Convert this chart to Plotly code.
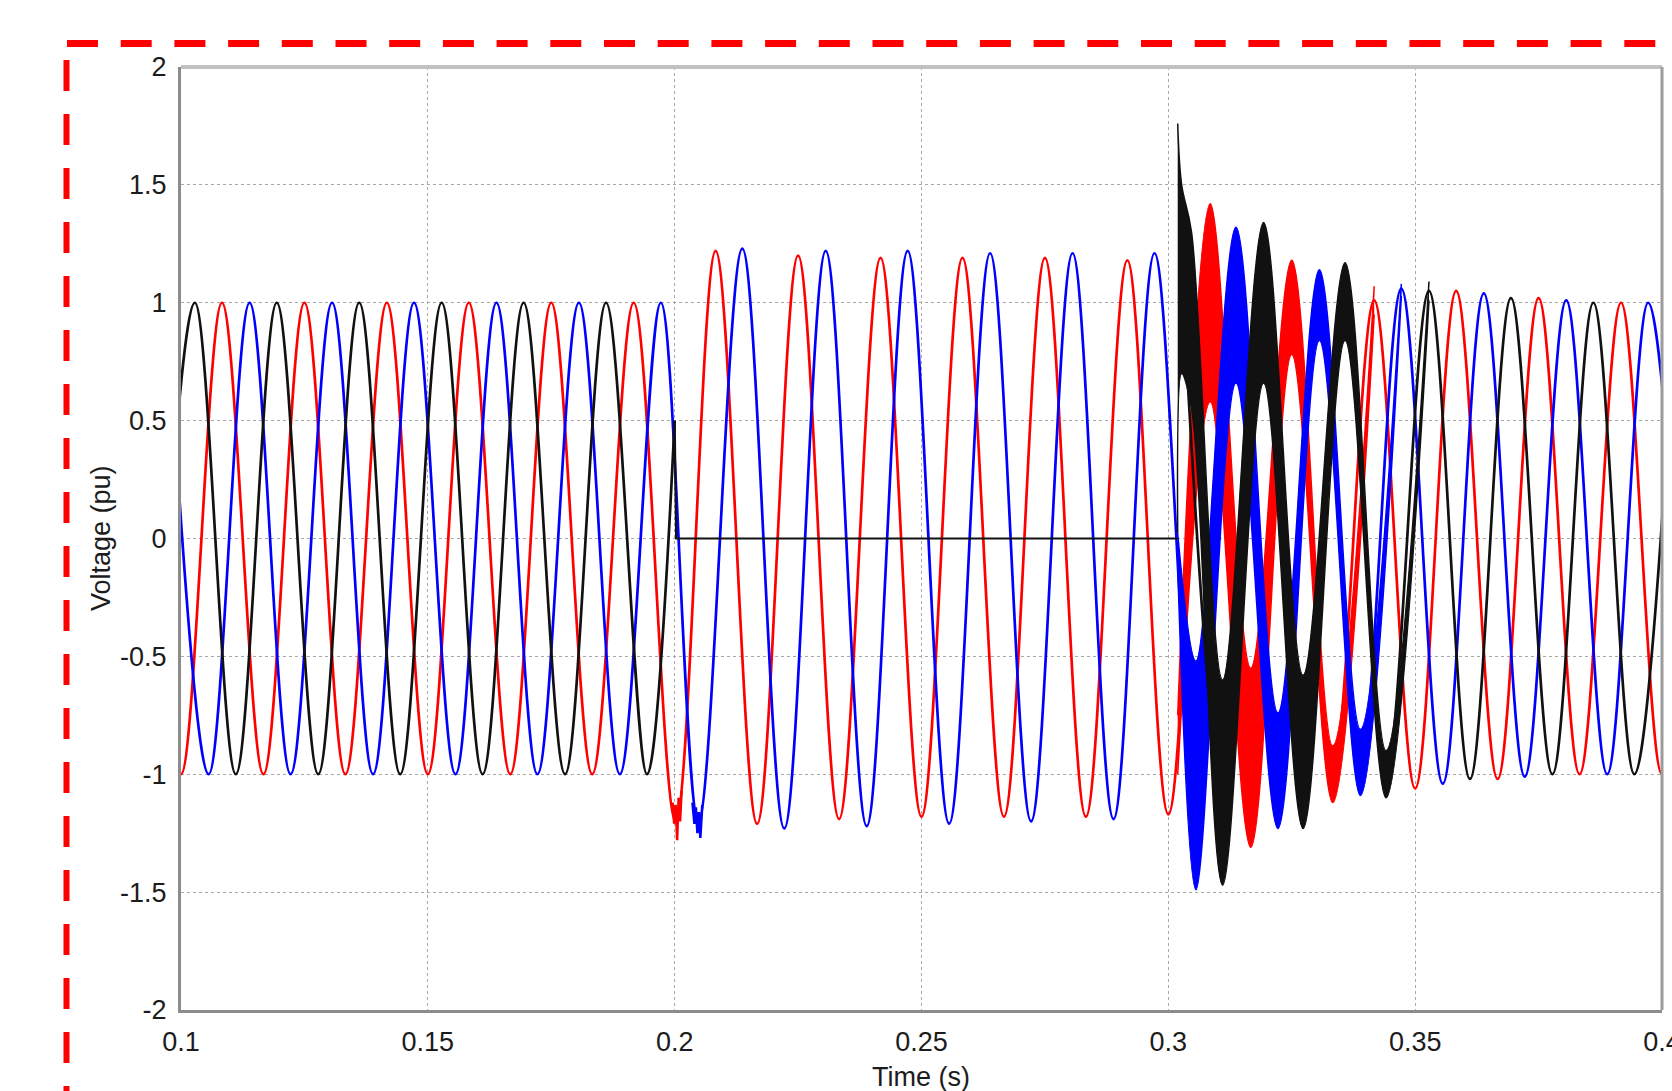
import plotly.graph_objects as go

# ---------------- data (time in s, voltage in pu) ----------------
# Phase drawn in black: extremum points before the event, the open period, and after reclosing
black_pre_t = [0.0944, 0.1028, 0.1111, 0.1194, 0.1278, 0.1361, 0.1444, 0.1528, 0.1611,
               0.1694, 0.1778, 0.1861, 0.1944, 0.2000]
black_pre_v = [-1.00, 1.00, -1.00, 1.00, -1.00, 1.00, -1.00, 1.00, -1.00,
               1.00, -1.00, 1.00, -1.00, 0.50]
black_open_t = [0.2000, 0.2003, 0.3019]
black_open_v = [0.50, 0.00, 0.00]
black_post_t = [0.3028, 0.3110, 0.3193, 0.3273, 0.3358, 0.3441, 0.3528, 0.3611, 0.3694,
                0.3778, 0.3861, 0.3944, 0.4028]
black_post_v = [1.10, -1.03, 1.00, -0.90, 1.00, -1.00, 1.05, -1.02, 1.02,
                -1.00, 1.00, -1.00, 1.00]
# envelope (upper / lower edge) of the high-frequency band after reclosing
black_band_t = [0.3019, 0.3027, 0.3047, 0.3110, 0.3193, 0.3273, 0.3358, 0.3441, 0.3528]
black_band_hi = [1.76, 1.50, 1.30, -0.60, 1.34, -0.58, 1.17, -0.90, 1.09]
black_band_lo = [0.02, 0.70, 0.55, -1.47, 0.66, -1.23, 0.84, -1.10, 1.01]

# Phase drawn in red
red_t = [0.0917, 0.1000, 0.1083, 0.1167, 0.1250, 0.1333, 0.1417, 0.1500, 0.1583, 0.1667,
         0.1750, 0.1833, 0.1917, 0.2002, 0.2083, 0.2167, 0.2250, 0.2333, 0.2417, 0.2500,
         0.2583, 0.2667, 0.2750, 0.2833, 0.2917, 0.3000, 0.3085, 0.3167, 0.3250, 0.3333,
         0.3417, 0.3500, 0.3583, 0.3667, 0.3750, 0.3833, 0.3917, 0.4000, 0.4083]
red_v = [1.00, -1.00, 1.00, -1.00, 1.00, -1.00, 1.00, -1.00, 1.00, -1.00,
         1.00, -1.00, 1.00, -1.20, 1.22, -1.21, 1.20, -1.19, 1.19, -1.18,
         1.19, -1.18, 1.19, -1.18, 1.18, -1.17, 1.00, -0.93, 0.98, -1.00,
         1.01, -1.06, 1.05, -1.02, 1.02, -1.00, 1.00, -1.00, 1.00]
# ragged trough / crest right after the 0.2 s event
red_rag_t = [0.1996, 0.1999, 0.2002, 0.2005, 0.2008, 0.2011, 0.2014]
red_rag_v = [-1.12, -1.21, -1.13, -1.28, -1.10, -1.20, -1.07]
red_band_t = [0.3019, 0.3085, 0.3167, 0.3250, 0.3333, 0.3417]
red_band_hi = [-0.75, 1.42, -0.55, 1.18, -0.88, 1.07]
red_band_lo = [-1.00, 0.58, -1.31, 0.78, -1.12, 0.95]

# Phase drawn in blue
blue_t = [0.0972, 0.1056, 0.1139, 0.1222, 0.1306, 0.1389, 0.1472, 0.1556, 0.1639, 0.1722,
          0.1806, 0.1889, 0.1972, 0.2048, 0.2137, 0.2222, 0.2306, 0.2389, 0.2472, 0.2556,
          0.2639, 0.2722, 0.2806, 0.2889, 0.2972, 0.3056, 0.3137, 0.3222, 0.3306, 0.3389,
          0.3472, 0.3556, 0.3639, 0.3722, 0.3806, 0.3889, 0.3972, 0.4056]
blue_v = [1.00, -1.00, 1.00, -1.00, 1.00, -1.00, 1.00, -1.00, 1.00, -1.00,
          1.00, -1.00, 1.00, -1.20, 1.23, -1.23, 1.22, -1.22, 1.22, -1.21,
          1.21, -1.20, 1.21, -1.19, 1.21, -1.00, 1.00, -0.98, 0.98, -0.96,
          1.06, -1.04, 1.04, -1.01, 1.01, -1.00, 1.00, -1.00]
blue_rag_t = [0.2036, 0.2040, 0.2043, 0.2046, 0.2049, 0.2052, 0.2056]
blue_rag_v = [-1.12, -1.21, -1.14, -1.25, -1.16, -1.27, -1.13]
blue_band_t = [0.3019, 0.3056, 0.3137, 0.3222, 0.3306, 0.3389, 0.3472]
blue_band_hi = [0.02, -0.52, 1.32, -0.74, 1.14, -0.81, 1.08]
blue_band_lo = [-0.12, -1.49, 0.66, -1.23, 0.84, -1.09, 1.03]

x_ticks = [0.1, 0.15, 0.2, 0.25, 0.3, 0.35, 0.4]
x_tick_text = ["0.1", "0.15", "0.2", "0.25", "0.3", "0.35", "0.4"]
y_ticks = [-2, -1.5, -1, -0.5, 0, 0.5, 1, 1.5, 2]
y_tick_text = ["-2", "-1.5", "-1", "-0.5", "0", "0.5", "1", "1.5", "2"]

# ---------------- styling ----------------
W, H = 1672, 1091
L, R, T, B = 181, 10, 67, 81
PW, PH = W - L - R, H - T - B
FONT = "Liberation Sans, Arial, sans-serif"
C_BLACK, C_RED, C_BLUE = "#111111", "#ff0000", "#0000ff"
LW = 2.7


def px_x(p):
    return (p - L) / PW


def px_y(p):
    return 1 - (p - T) / PH


fig = go.Figure()


def add_line(t, v, color, shape="spline", width=LW):
    fig.add_trace(go.Scatter(x=t, y=v, mode="lines", hoverinfo="skip", showlegend=False,
                             line=dict(color=color, width=width, shape=shape, smoothing=1)))


def add_band(t, hi, lo, color):
    fig.add_trace(go.Scatter(x=t, y=lo, mode="lines", hoverinfo="skip", showlegend=False,
                             line=dict(color=color, width=1.5, shape="spline", smoothing=1)))
    fig.add_trace(go.Scatter(x=t, y=hi, mode="lines", hoverinfo="skip", showlegend=False,
                             fill="tonexty", fillcolor=color,
                             line=dict(color=color, width=1.5, shape="spline", smoothing=1)))


add_line(red_t, red_v, C_RED)
add_line(red_rag_t, red_rag_v, C_RED, shape="linear", width=2.5)
add_band(red_band_t, red_band_hi, red_band_lo, C_RED)
add_line(blue_t, blue_v, C_BLUE)
add_line(blue_rag_t, blue_rag_v, C_BLUE, shape="linear", width=2.5)
add_band(blue_band_t, blue_band_hi, blue_band_lo, C_BLUE)
add_line(black_pre_t, black_pre_v, C_BLACK)
add_line(black_open_t, black_open_v, C_BLACK, shape="linear", width=2.2)
add_line(black_post_t, black_post_v, C_BLACK)
add_band(black_band_t, black_band_hi, black_band_lo, C_BLACK)

axis_common = dict(
    showgrid=True, gridcolor="#a8a8a8", gridwidth=1.3, griddash="3px,3px",
    zeroline=False, showline=True, linecolor="#8c8c8c", linewidth=3,
    ticks="", tickfont=dict(family=FONT, size=27, color="#1c1c1c"),
    ticklabeloverflow="allow", automargin=False,
)

fig.update_xaxes(range=[0.1, 0.4], tickvals=x_ticks, ticktext=x_tick_text,
                 ticklabelstandoff=6, **axis_common)
fig.update_yaxes(range=[-2, 2], tickvals=y_ticks, ticktext=y_tick_text,
                 ticklabelstandoff=6, **axis_common)

shapes = [
    # plot frame top and right
    dict(type="line", xref="paper", yref="paper", x0=0, x1=1, y0=1, y1=1,
         line=dict(color="#c2c2c2", width=4)),
    dict(type="line", xref="paper", yref="paper", x0=1, x1=1, y0=0, y1=1,
         line=dict(color="#9c9c9c", width=3)),
    # red dashed selection frame
    dict(type="line", xref="paper", yref="paper", x0=px_x(67), x1=px_x(1700),
         y0=px_y(43.5), y1=px_y(43.5), line=dict(color="#ff0000", width=7, dash="31px,22.7px")),
    dict(type="line", xref="paper", yref="paper", x0=px_x(66.5), x1=px_x(66.5),
         y0=px_y(60), y1=px_y(1120), line=dict(color="#ff0000", width=6, dash="31px,23px")),
]

annotations = [
    dict(text="Voltage (pu)", xref="paper", yref="paper", x=px_x(101), y=px_y(538),
         xanchor="center", yanchor="middle", textangle=-90, showarrow=False,
         font=dict(family=FONT, size=27, color="#1c1c1c")),
    dict(text="Time (s)", xref="paper", yref="paper", x=px_x(921), y=px_y(1077),
         xanchor="center", yanchor="middle", showarrow=False,
         font=dict(family=FONT, size=27, color="#1c1c1c")),
]

fig.update_layout(
    width=W, height=H, autosize=False,
    margin=dict(l=L, r=R, t=T, b=B, pad=0, autoexpand=False),
    paper_bgcolor="white", plot_bgcolor="white",
    showlegend=False, shapes=shapes, annotations=annotations,
)

fig.write_html("out.html", include_plotlyjs=True, full_html=True,
               config={"displayModeBar": False},
               post_script="document.body.style.margin='0';document.body.style.overflow='hidden';")
